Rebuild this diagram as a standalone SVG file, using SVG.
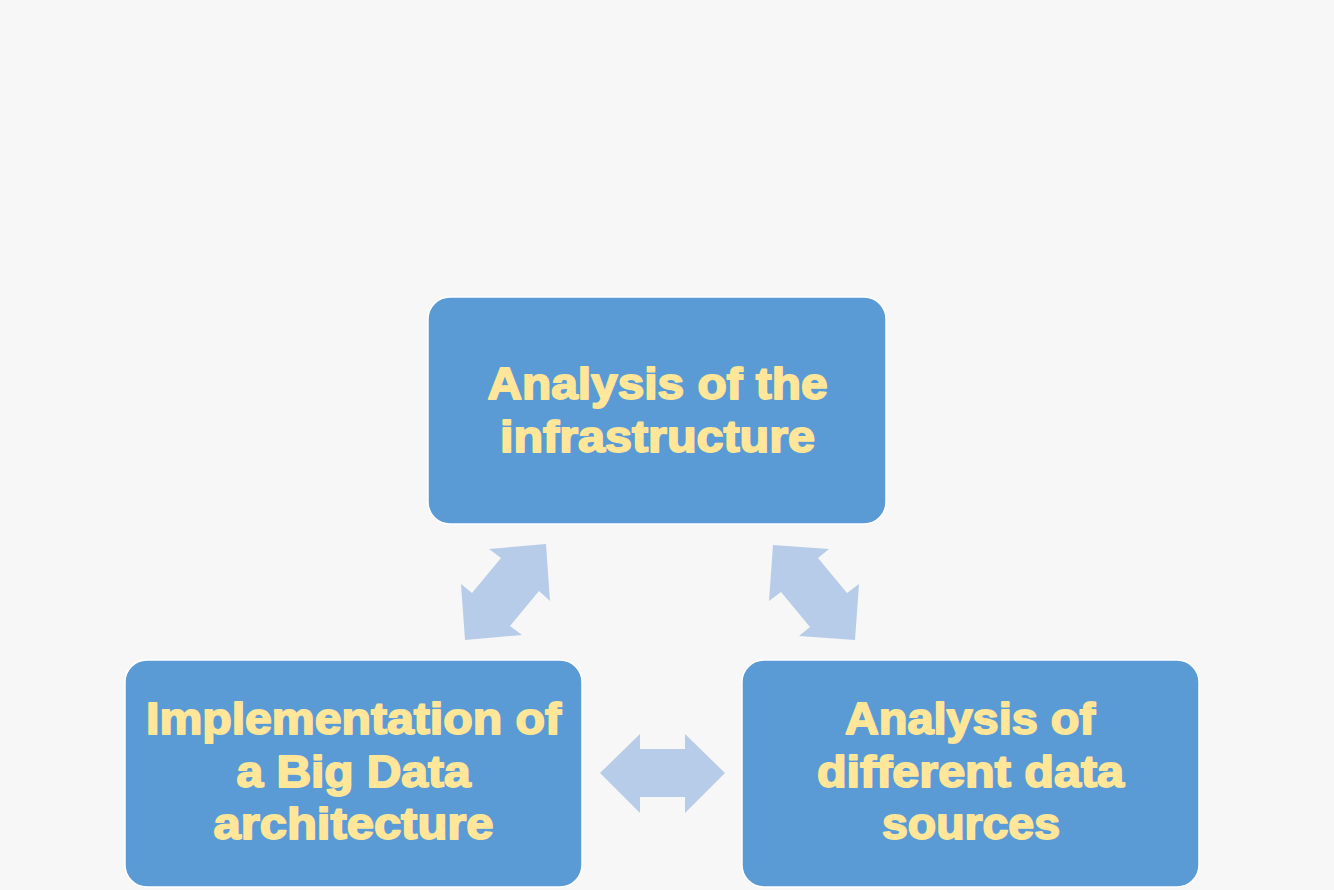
<svg xmlns="http://www.w3.org/2000/svg" width="1334" height="890" viewBox="0 0 1334 890">
<style>
.box{fill:#5B9BD5;stroke:#FFFFFF;stroke-width:1.5}
.lbl{font-family:"Liberation Sans",Arial,sans-serif;font-weight:bold;font-size:44px;fill:#FFE699;stroke:#FFE699;stroke-width:1.8;stroke-linejoin:round;text-anchor:middle}
.arr{fill:#B7CCE8}
</style>
<rect x="0" y="0" width="1334" height="890" fill="#F7F7F7"/>
<g id="connectors">
<polygon class="arr" points="546,544 489,549 501,558 472,593 461,584 465,640 522,635 510,626 539,591 550,601"/>
<polygon class="arr" points="773,545 829,549 818,558 847,593 859,584 855,640 799,636 810,627 781,592 769,601"/>
<polygon class="arr" points="600,773 640,734 640,749 685,749 685,734 725,773 685,813 685,797 640,797 640,813"/>
</g>
<g id="node-infrastructure">
<rect class="box" x="428" y="297" width="458" height="227" rx="22"/>
<text class="lbl" x="657.5" y="399" textLength="340" lengthAdjust="spacingAndGlyphs">Analysis of the</text>
<text class="lbl" x="657.5" y="452" textLength="315" lengthAdjust="spacingAndGlyphs">infrastructure</text>
</g>
<g id="node-implementation">
<rect class="box" x="125" y="660" width="457" height="227" rx="22"/>
<text class="lbl" x="353.5" y="734" textLength="415" lengthAdjust="spacingAndGlyphs">Implementation of</text>
<text class="lbl" x="353.5" y="787" textLength="234" lengthAdjust="spacingAndGlyphs">a Big Data</text>
<text class="lbl" x="353.5" y="839" textLength="280" lengthAdjust="spacingAndGlyphs">architecture</text>
</g>
<g id="node-sources">
<rect class="box" x="742" y="660" width="457" height="227" rx="22"/>
<text class="lbl" x="970" y="734" textLength="250" lengthAdjust="spacingAndGlyphs">Analysis of</text>
<text class="lbl" x="970.5" y="787" textLength="307" lengthAdjust="spacingAndGlyphs">different data</text>
<text class="lbl" x="971" y="839" textLength="178" lengthAdjust="spacingAndGlyphs">sources</text>
</g>
</svg>
